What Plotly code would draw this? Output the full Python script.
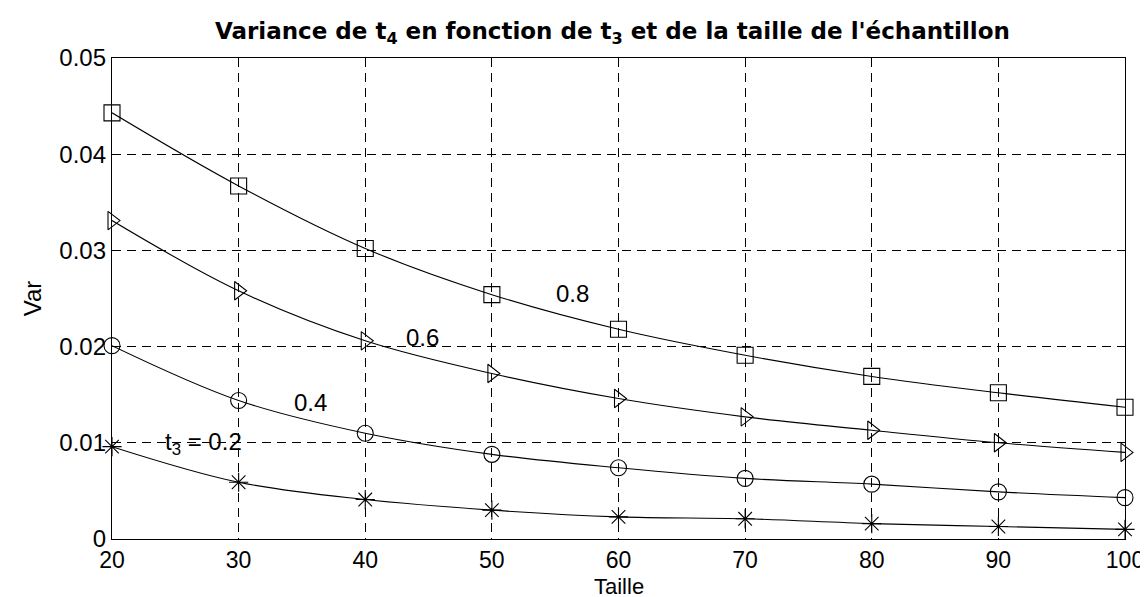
import plotly.graph_objects as go

taille = [20, 30, 40, 50, 60, 70, 80, 90, 100]
var_08 = [0.0443, 0.0367, 0.0302, 0.0254, 0.0218, 0.0191, 0.0169, 0.0152, 0.0137]
var_06 = [0.0331, 0.0258, 0.0206, 0.0172, 0.0146, 0.0127, 0.0113, 0.0100, 0.0090]
var_04 = [0.0201, 0.0144, 0.0110, 0.0088, 0.0074, 0.0063, 0.0057, 0.0049, 0.0043]
var_02 = [0.0096, 0.0059, 0.0041, 0.0030, 0.0023, 0.0021, 0.0016, 0.0013, 0.0010]

series = [
    ("0.8", var_08, "square-open"),
    ("0.6", var_06, "triangle-right-open"),
    ("0.4", var_04, "circle-open"),
    ("0.2", var_02, "asterisk-open"),
]

labels_text = ["0.8", "0.6", "0.4", "t<sub>3</sub> = 0.2"]
labels_x = [56.4, 44.5, 35.7, 27.2]
labels_y = [0.0255, 0.0209, 0.0142, 0.0099]

FONT = "Liberation Sans, Arial, Helvetica"
TITLE_FONT = "DejaVu Sans, Liberation Sans, Arial"

fig = go.Figure()
for name, vals, sym in series:
    fig.add_trace(go.Scatter(
        x=taille, y=vals, mode="lines+markers", name=name,
        line=dict(color="black", width=1.1, shape="spline"),
        marker=dict(symbol=sym, size=16, color="black", line=dict(width=1.1, color="black")),
        cliponaxis=False, showlegend=False,
    ))

for t, x, y in zip(labels_text, labels_x, labels_y):
    fig.add_annotation(x=x, y=y, text=t, showarrow=False,
                       font=dict(size=24, color="black", family=FONT))

# x-axis title as an annotation so it sits close under the tick labels
fig.add_annotation(x=0.5, xref="paper", y=-0.099, yref="paper", yanchor="middle",
                   text="Taille", showarrow=False,
                   font=dict(size=22, color="black", family=FONT))

axis_common = dict(
    showline=True, linecolor="black", linewidth=1.3, mirror=True,
    showgrid=True, gridcolor="black", griddash="9px,6px", gridwidth=1,
    ticks="", zeroline=False,
)

fig.update_xaxes(range=[20, 100], dtick=10, tick0=20, ticklabelstandoff=0,
                 tickfont=dict(size=23, color="black", family=FONT),
                 **axis_common)
fig.update_yaxes(range=[0, 0.05], dtick=0.01, tick0=0,
                 tickfont=dict(size=24, color="black", family=FONT),
                 title=dict(text="Var", font=dict(size=24, color="black", family=FONT), standoff=10),
                 **axis_common)

fig.update_layout(
    width=1148, height=597,
    paper_bgcolor="white", plot_bgcolor="white",
    margin=dict(l=104, r=28, t=50, b=66),
    title=dict(text="<b>Variance de t<sub>4</sub> en fonction de t<sub>3</sub> et de la taille de l'échantillon</b>",
               x=0.494, xref="paper", xanchor="center", y=0.962, yanchor="middle",
               font=dict(size=23, color="black", family=TITLE_FONT)),
    font=dict(family=FONT, color="black"),
)

fig.write_html("out.html")
